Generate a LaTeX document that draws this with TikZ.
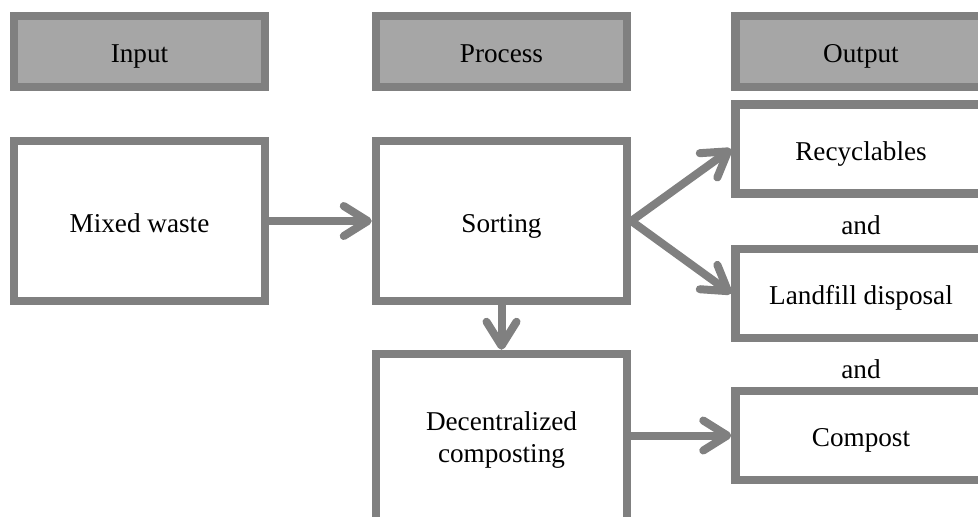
\documentclass[tikz,border=0pt]{standalone}
\usepackage{fontspec}
\setmainfont{Liberation Serif}
\usetikzlibrary{arrows.meta}
\definecolor{edgegray}{RGB}{128,128,128}
\definecolor{headgray}{RGB}{166,166,166}

\begin{document}
\begin{tikzpicture}[x=0.5pt, y=-0.5pt,
    font=\fontsize{13.6}{16}\selectfont,
    oneline/.style={text height=11pt, text depth=0pt},
    box/.style={draw=edgegray, line width=4.25pt, fill=white, rectangle,
        minimum width=125.5pt, minimum height=80pt, align=center},
    head/.style={box, oneline, fill=headgray, minimum height=35.5pt},
    outbox/.style={box, oneline, minimum height=44.5pt},
    arr/.style={draw=edgegray, line width=4pt,
        -{Straight Barb[length=12pt, width=15pt, round]}}]
            \useasboundingbox (0, 0) rectangle (978, 516);
            \clip (0, 0) rectangle (978, 516);
            \draw (139.5, 51.5) node[head](inhead){Input};
            \draw (501.5, 51.5) node[head](prochead){Process};
            \draw (861, 51.5) node[head](outhead){Output};
            \draw (139.5, 221) node[box, oneline](mixed){Mixed waste};
            \draw (501.5, 221) node[box, oneline](sorting){Sorting};
            \draw[arr] (mixed) -- (sorting);
            \draw (501.5, 440) node[box, minimum height=86pt](decent){Decentralized\\composting};
            \draw[arr] (sorting) -- (decent);
            \draw (861, 149) node[outbox](recyc){Recyclables};
            \draw[arr] (sorting.east) -- (recyc.west);
            \draw (861, 223) node[oneline](and1){and};
            \draw (861, 293.5) node[outbox](landfill){Landfill disposal};
            \draw[arr] (sorting.east) -- (landfill.west);
            \draw (861, 367) node[oneline](and2){and};
            \draw (861, 435.5) node[outbox](compost){Compost};
            \draw[arr] (decent.east |- compost) -- (compost);
        \end{tikzpicture}
\end{document}
